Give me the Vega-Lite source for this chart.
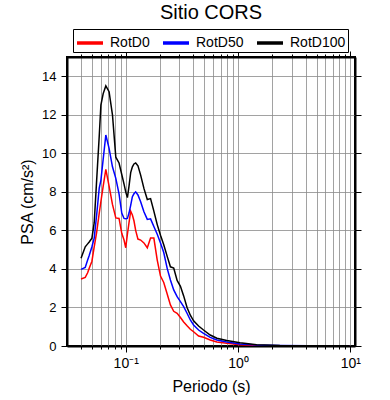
{
  "$schema": "https://vega.github.io/schema/vega-lite/v6.json",
  "width": 288,
  "height": 289,
  "autosize": {"type": "none"},
  "padding": {"left": 67, "top": 57, "right": 35, "bottom": 54},
  "background": "white",
  "config": {
    "font": "Liberation Sans",
    "view": {"stroke": "black", "strokeWidth": 2},
    "axis": {
      "domainColor": "black",
      "domainWidth": 2,
      "tickColor": "black",
      "tickWidth": 1,
      "labelColor": "black",
      "titleColor": "black",
      "labelFont": "Liberation Sans",
      "titleFont": "Liberation Sans",
      "titleFontWeight": "normal",
      "gridColor": "#8a8a8a",
      "gridWidth": 0.8,
      "gridOpacity": 1
    }
  },
  "title": {
    "text": "Sitio CORS",
    "fontSize": 20,
    "fontWeight": "normal",
    "font": "Liberation Sans",
    "color": "black",
    "anchor": "middle",
    "frame": "group",
    "offset": 6
  },
  "data": {
    "values": [
      {"p": 0.04, "RotD0": 3.48, "RotD50": 3.98, "RotD100": 4.55},
      {"p": 0.0436, "RotD0": 3.56, "RotD50": 4.08, "RotD100": 5.15},
      {"p": 0.0458, "RotD0": 3.8, "RotD50": 4.46, "RotD100": 5.3},
      {"p": 0.0473, "RotD0": 4.03, "RotD50": 4.7, "RotD100": 5.4},
      {"p": 0.05, "RotD0": 4.4, "RotD50": 5.15, "RotD100": 5.6},
      {"p": 0.0524, "RotD0": 5.15, "RotD50": 5.6, "RotD100": 6.4},
      {"p": 0.0551, "RotD0": 5.9, "RotD50": 6.8, "RotD100": 8.6},
      {"p": 0.0581, "RotD0": 6.9, "RotD50": 8.2, "RotD100": 10.9},
      {"p": 0.0601, "RotD0": 7.5, "RotD50": 8.6, "RotD100": 12.5},
      {"p": 0.063, "RotD0": 8.3, "RotD50": 9.7, "RotD100": 13.1},
      {"p": 0.0665, "RotD0": 9.17, "RotD50": 10.95, "RotD100": 13.5},
      {"p": 0.0711, "RotD0": 8.3, "RotD50": 10.26, "RotD100": 13.2},
      {"p": 0.0762, "RotD0": 7.35, "RotD50": 9.3, "RotD100": 12.0},
      {"p": 0.0816, "RotD0": 6.65, "RotD50": 8.7, "RotD100": 9.8},
      {"p": 0.0872, "RotD0": 6.62, "RotD50": 7.9, "RotD100": 9.5},
      {"p": 0.0922, "RotD0": 5.85, "RotD50": 6.9, "RotD100": 8.9},
      {"p": 0.0966, "RotD0": 5.5, "RotD50": 6.62, "RotD100": 8.4},
      {"p": 0.1, "RotD0": 5.1, "RotD50": 6.6, "RotD100": 8.0},
      {"p": 0.1035, "RotD0": 5.8, "RotD50": 6.62, "RotD100": 7.7},
      {"p": 0.107, "RotD0": 6.4, "RotD50": 6.9, "RotD100": 8.3},
      {"p": 0.1107, "RotD0": 7.0, "RotD50": 7.3, "RotD100": 9.0},
      {"p": 0.1146, "RotD0": 6.8, "RotD50": 7.75, "RotD100": 9.3},
      {"p": 0.1184, "RotD0": 6.5, "RotD50": 7.9, "RotD100": 9.45},
      {"p": 0.1226, "RotD0": 6.0, "RotD50": 8.0, "RotD100": 9.5},
      {"p": 0.1285, "RotD0": 5.55, "RotD50": 7.84, "RotD100": 9.35},
      {"p": 0.1358, "RotD0": 5.5, "RotD50": 7.49, "RotD100": 8.87},
      {"p": 0.1452, "RotD0": 5.35, "RotD50": 6.97, "RotD100": 8.18},
      {"p": 0.1556, "RotD0": 5.1, "RotD50": 6.57, "RotD100": 7.6},
      {"p": 0.1664, "RotD0": 5.6, "RotD50": 6.6, "RotD100": 7.65},
      {"p": 0.178, "RotD0": 5.6, "RotD50": 6.2, "RotD100": 7.0},
      {"p": 0.1908, "RotD0": 4.46, "RotD50": 5.8, "RotD100": 6.3},
      {"p": 0.204, "RotD0": 3.63, "RotD50": 5.35, "RotD100": 5.75},
      {"p": 0.218, "RotD0": 3.3, "RotD50": 4.85, "RotD100": 5.25},
      {"p": 0.234, "RotD0": 2.7, "RotD50": 4.03, "RotD100": 4.65},
      {"p": 0.25, "RotD0": 2.13, "RotD50": 3.43, "RotD100": 4.11},
      {"p": 0.2675, "RotD0": 1.8, "RotD50": 2.91, "RotD100": 4.05},
      {"p": 0.2868, "RotD0": 1.7, "RotD50": 2.56, "RotD100": 3.4},
      {"p": 0.307, "RotD0": 1.48, "RotD50": 2.3, "RotD100": 3.1},
      {"p": 0.328, "RotD0": 1.25, "RotD50": 2.04, "RotD100": 2.6},
      {"p": 0.3515, "RotD0": 1.05, "RotD50": 1.7, "RotD100": 2.0},
      {"p": 0.376, "RotD0": 0.87, "RotD50": 1.35, "RotD100": 1.6},
      {"p": 0.402, "RotD0": 0.74, "RotD50": 1.09, "RotD100": 1.31},
      {"p": 0.4454, "RotD0": 0.52, "RotD50": 0.83, "RotD100": 1.04},
      {"p": 0.493, "RotD0": 0.45, "RotD50": 0.66, "RotD100": 0.83},
      {"p": 0.565, "RotD0": 0.31, "RotD50": 0.45, "RotD100": 0.57},
      {"p": 0.648, "RotD0": 0.21, "RotD50": 0.31, "RotD100": 0.4},
      {"p": 0.794, "RotD0": 0.14, "RotD50": 0.21, "RotD100": 0.28},
      {"p": 1.042, "RotD0": 0.07, "RotD50": 0.1, "RotD100": 0.17},
      {"p": 1.464, "RotD0": 0.03, "RotD50": 0.05, "RotD100": 0.07},
      {"p": 2.355, "RotD0": 0.01, "RotD50": 0.02, "RotD100": 0.03},
      {"p": 4.336, "RotD0": 0.005, "RotD50": 0.01, "RotD100": 0.015},
      {"p": 9.79, "RotD0": 0.003, "RotD50": 0.005, "RotD100": 0.01}
    ]
  },
  "transform": [{"fold": ["RotD0", "RotD50", "RotD100"], "as": ["serie", "psa"]}],
  "layer": [
    {
      "mark": {"type": "line", "strokeWidth": 1.5, "clip": true},
      "encoding": {
        "x": {
          "field": "p",
          "type": "quantitative",
          "scale": {"type": "log", "domain": [0.03, 11], "nice": false},
          "axis": {
            "orient": "bottom",
            "title": "Periodo (s)",
            "titleFontSize": 16,
            "titlePadding": 8,
            "values": [0.04, 0.05, 0.06, 0.07, 0.08, 0.09, 0.1, 0.2, 0.3, 0.4, 0.5, 0.6, 0.7, 0.8, 0.9, 1, 2, 3, 4, 5, 6, 7, 8, 9, 10],
            "labelExpr": "datum.value == 0.1 ? '10⁻¹' : datum.value == 1 ? '10⁰' : datum.value == 10 ? '10¹' : ''",
            "labelFontSize": 14,
            "labelPadding": 4,
            "labelFlush": false,
            "labelOverlap": false,
            "grid": true,
            "tickSize": {"condition": {"test": "datum.value == 0.1 || datum.value == 1 || datum.value == 10", "value": 6}, "value": 3}
          }
        },
        "y": {
          "field": "psa",
          "type": "quantitative",
          "scale": {"domain": [0, 15], "nice": false},
          "axis": {
            "orient": "left",
            "title": "PSA (cm/s²)",
            "titleFontSize": 16,
            "titlePadding": 6,
            "values": [0, 2, 4, 6, 8, 10, 12, 14],
            "labelFontSize": 13,
            "labelPadding": 5,
            "tickSize": 6,
            "grid": true
          }
        },
        "color": {
          "field": "serie",
          "type": "nominal",
          "scale": {"domain": ["RotD0", "RotD50", "RotD100"], "range": ["#ff0000", "#0000ff", "#000000"]},
          "legend": {
            "orient": "none",
            "legendX": 6,
            "legendY": -28,
            "direction": "horizontal",
            "title": null,
            "symbolType": "M-1.3,0H1.3",
            "symbolSize": 400,
            "symbolStrokeWidth": 3.5,
            "symbolOffset": 3,
            "labelOffset": 8,
            "labelFontSize": 14,
            "labelFont": "Liberation Sans",
            "labelColor": "black",
            "columnPadding": 6,
            "padding": 2,
            "strokeColor": "black",
            "fillColor": "white"
          }
        }
      }
    },
    {
      "mark": {"type": "line", "opacity": 0},
      "encoding": {
        "x": {
          "field": "p",
          "type": "quantitative",
          "axis": {
            "orient": "top",
            "title": null,
            "labels": false,
            "grid": false,
            "values": [0.04, 0.05, 0.06, 0.07, 0.08, 0.09, 0.1, 0.2, 0.3, 0.4, 0.5, 0.6, 0.7, 0.8, 0.9, 1, 2, 3, 4, 5, 6, 7, 8, 9, 10],
            "tickSize": {"condition": {"test": "datum.value == 0.1 || datum.value == 1 || datum.value == 10", "value": 6}, "value": 3}
          }
        },
        "y": {
          "field": "psa",
          "type": "quantitative",
          "axis": {
            "orient": "right",
            "title": null,
            "labels": false,
            "grid": false,
            "values": [0, 2, 4, 6, 8, 10, 12, 14],
            "tickSize": 6
          }
        }
      }
    }
  ],
  "resolve": {"axis": {"x": "independent", "y": "independent"}}
}
